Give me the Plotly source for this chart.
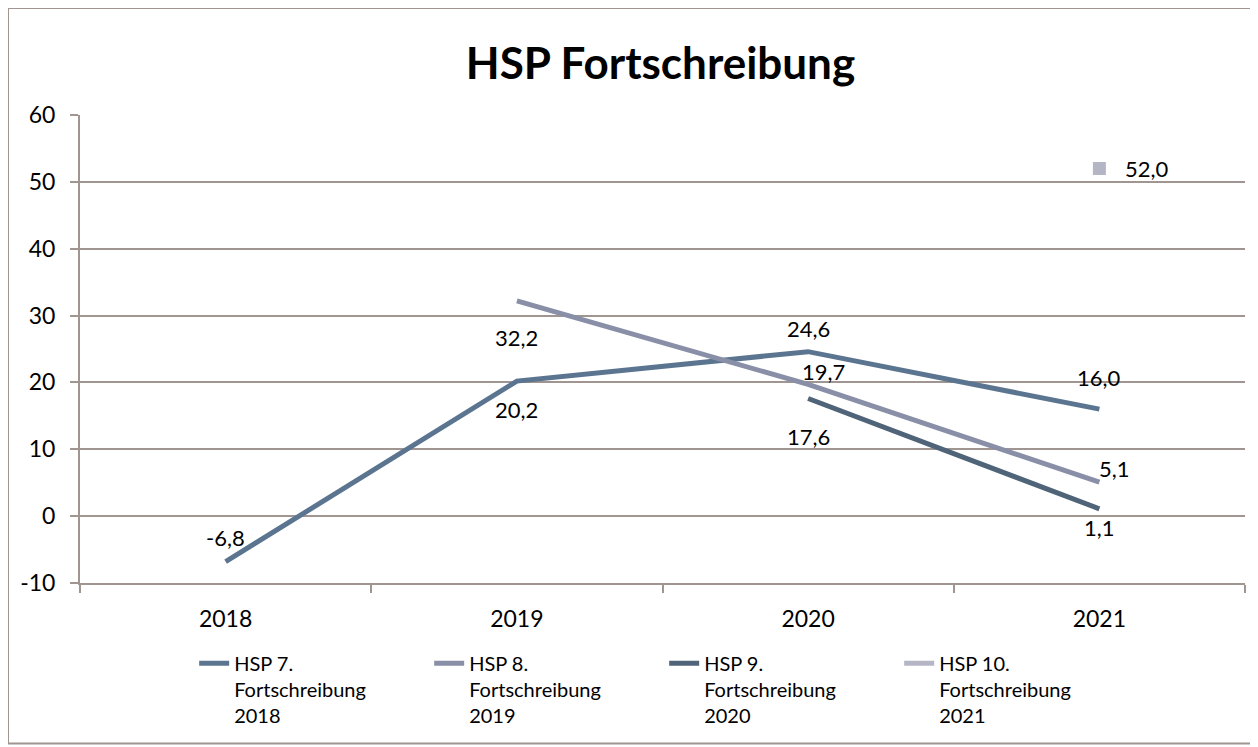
import plotly.graph_objects as go

years = ["2018", "2019", "2020", "2021"]
hsp7 = [-6.8, 20.2, 24.6, 16.0]
hsp8 = [None, 32.2, 19.7, 5.1]
hsp9 = [None, None, 17.6, 1.1]
hsp10 = [None, None, None, 52.0]
names = ["HSP 7.<br>Fortschreibung<br>2018", "HSP 8.<br>Fortschreibung<br>2019",
         "HSP 9.<br>Fortschreibung<br>2020", "HSP 10.<br>Fortschreibung<br>2021"]
y_ticks = [-10, 0, 10, 20, 30, 40, 50, 60]
y_ticktext = ["-10", "0", "10", "20", "30", "40", "50", "60"]
colors = ["#5b7590", "#8a8fa8", "#4f6478", "#b4b6c6"]

# label offsets (x shift, y shift) in pixels per point
shifts = [
    [(0, 24), (0, -28), (0, 23), (0, 32)],
    [None, (0, -37), (15, 13), (15, 14)],
    [None, None, (0, -38), (0, -19)],
    [None, None, None, (48, 0)],
]

FONT = "Lato"
fig = go.Figure()
series = [hsp7, hsp8, hsp9, hsp10]
for i, s in enumerate(series):
    fig.add_trace(go.Scatter(x=years, y=s, mode="lines", name=names[i],
                             line=dict(color=colors[i], width=5),
                             connectgaps=False))
fig.add_trace(go.Scatter(x=years, y=hsp10, mode="markers", showlegend=False,
                         marker=dict(symbol="square", size=13, color=colors[3])))

for i, s in enumerate(series):
    for j, v in enumerate(s):
        if v is None:
            continue
        dx, dy = shifts[i][j]
        fig.add_annotation(x=j, y=v, xref="x", yref="y",
                           text=f"{v:.1f}".replace(".", ","),
                           showarrow=False, xshift=dx, yshift=dy,
                           font=dict(family=FONT, size=22, color="#000000"))

grid = "#a09590"
W, H = 1250, 739
fig.update_layout(
    width=W, height=H,
    paper_bgcolor="white", plot_bgcolor="white",
    margin=dict(l=72, r=13, t=107, b=164, autoexpand=False),
    title=dict(text="<b>HSP Fortschreibung</b>", x=0.522, xanchor="center",
               y=0.925, yanchor="middle",
               font=dict(family=FONT, size=44, color="#000000")),
    font=dict(family=FONT, size=22, color="#000000"),
    showlegend=True,
    legend=dict(orientation="h", x=0.098, xanchor="left", y=-0.13, yanchor="top",
                entrywidth=190, entrywidthmode="pixels", valign="top",
                font=dict(family=FONT, size=20, color="#000000"),
                tracegroupgap=0, itemwidth=30, bgcolor="rgba(0,0,0,0)"),
    xaxis=dict(type="category", range=[-0.5, 3.5], showgrid=False,
               showline=True, linecolor=grid, linewidth=2,
               ticks="outside", ticklen=8, tickcolor=grid, tickwidth=2,
               tickson="boundaries", ticklabelstandoff=14,
               tickfont=dict(size=23, family=FONT)),
    yaxis=dict(range=[-10, 60], tickmode="array", tickvals=y_ticks, ticktext=y_ticktext,
               showgrid=True, gridcolor=grid, gridwidth=2, zeroline=False,
               showline=True, linecolor=grid, linewidth=2,
               ticks="outside", ticklen=8, tickcolor=grid, tickwidth=2,
               ticklabelstandoff=10,
               tickfont=dict(size=23, family=FONT)),
    shapes=[dict(type="rect", xref="paper", yref="paper",
                 x0=-72 / 1165, x1=1.0086, y0=-0.343, y1=1.0 + 107 / 468,
                 line=dict(color=grid, width=2))],
)

fig.write_html("out.html")
